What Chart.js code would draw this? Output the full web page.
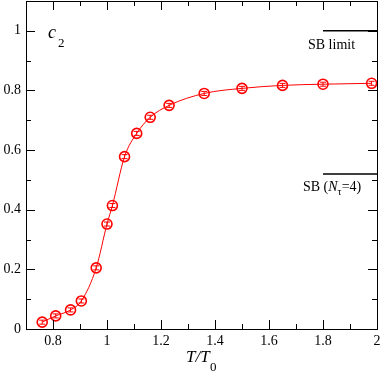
<!DOCTYPE html>
<html>
<head>
<meta charset="utf-8">
<script src="https://cdn.jsdelivr.net/npm/chart.js@4.4.1/dist/chart.umd.min.js"></script>
<style>
  html, body { margin: 0; padding: 0; background: #fff; }
  #wrap { width: 382px; height: 378px; }
</style>
</head>
<body>
<div id="wrap"><canvas id="myChart"></canvas></div>
<script>
// data
const temps = [0.76, 0.81, 0.865, 0.905, 0.96, 1.0, 1.02, 1.065, 1.11, 1.16, 1.23, 1.36, 1.5, 1.65, 1.8, 1.98];
const c2 = [0.023, 0.044, 0.064, 0.094, 0.205, 0.352, 0.414, 0.578, 0.656, 0.71, 0.75, 0.79, 0.807, 0.817, 0.821, 0.824];
const sbLimit = 1.0;
const sbLattice = 0.52;
const sbRange = [1.8, 2.0];

const xTicks = [0.8, 1, 1.2, 1.4, 1.6, 1.8, 2];
const yTicks = [0, 0.2, 0.4, 0.6, 0.8, 1];

const serif = '"Liberation Serif", "DejaVu Serif", serif';

const points = temps.map((t, i) => ({ x: t, y: c2[i] }));

// frame + inward ticks on all four sides
const framePlugin = {
    id: 'frame',
    afterDraw(chart) {
        const c = chart.ctx;
        const a = chart.chartArea;
        const xs = chart.scales.x;
        const ys = chart.scales.y;
        c.save();
        c.strokeStyle = '#000';
        c.lineWidth = 1;
        c.strokeRect(a.left + 0.5, a.top + 0.5, a.right - a.left, a.bottom - a.top);
        c.beginPath();
        for (let v = 0.7; v <= 2.0001; v += 0.1) {
            const px = Math.round(xs.getPixelForValue(v)) + 0.5;
            const major = Math.abs(v * 5 - Math.round(v * 5)) < 0.001;
            const len = major ? 9 : 5;
            c.moveTo(px, a.bottom); c.lineTo(px, a.bottom - len);
            c.moveTo(px, a.top); c.lineTo(px, a.top + len);
        }
        for (let v = 0; v <= 1.1001; v += 0.1) {
            const py = Math.round(ys.getPixelForValue(v)) + 0.5;
            const major = Math.abs(v * 5 - Math.round(v * 5)) < 0.001;
            const len = major ? 9 : 5;
            c.moveTo(a.left, py); c.lineTo(a.left + len, py);
            c.moveTo(a.right, py); c.lineTo(a.right - len, py);
        }
        c.stroke();

        // small error bars inside the markers
        const meta = chart.getDatasetMeta(0);
        c.strokeStyle = 'red';
        c.beginPath();
        meta.data.forEach(p => {
            c.moveTo(p.x - 3, p.y - 2); c.lineTo(p.x + 3, p.y - 2);
            c.moveTo(p.x - 3, p.y + 2); c.lineTo(p.x + 3, p.y + 2);
            c.moveTo(p.x, p.y - 2); c.lineTo(p.x, p.y + 2);
        });
        c.stroke();

        // texts
        c.fillStyle = '#000';
        c.textBaseline = 'alphabetic';
        c.font = 'italic 18px ' + serif;
        c.fillText('c', 48, 38);
        c.font = '13px ' + serif;
        c.fillText('2', 58, 47);

        c.font = 'italic 17px ' + serif;
        c.fillText('T/T', 186, 362);
        c.font = '13px ' + serif;
        c.fillText('0', 210, 371);

        c.font = '14px ' + serif;
        c.fillText('SB limit', 308, 49);

        let x = 303;
        const y = 191;
        c.font = '14px ' + serif;
        c.fillText('SB (', x, y); x += c.measureText('SB (').width;
        c.font = 'italic 14px ' + serif;
        c.fillText('N', x, y); x += c.measureText('N').width;
        c.font = '10px ' + serif;
        c.fillText('\u03c4', x, y + 4); x += c.measureText('\u03c4').width;
        c.font = '14px ' + serif;
        c.fillText('=4)', x, y);
        c.restore();
    }
};

function noPad(scale) {
    scale.paddingTop = 0;
    scale.paddingBottom = 0;
    scale.paddingLeft = 0;
    scale.paddingRight = 0;
}

var ctx = document.getElementById('myChart').getContext('2d');

var myChart = new Chart(ctx, { // eslint-disable-line
    type: 'line',
    data: {
        datasets: [{
            data: points,
            borderColor: 'red',
            borderWidth: 1,
            backgroundColor: 'transparent',
            pointStyle: 'circle',
            pointRadius: 5,
            pointBorderWidth: 1.6,
            pointBorderColor: 'red',
            pointBackgroundColor: 'transparent',
            cubicInterpolationMode: 'monotone'
        },
        {
            data: sbRange.map(v => ({ x: v, y: sbLimit })),
            borderColor: '#000',
            borderWidth: 1.5,
            pointRadius: 0
        },
        {
            data: sbRange.map(v => ({ x: v, y: sbLattice })),
            borderColor: '#000',
            borderWidth: 1.5,
            pointRadius: 0
        }]
    },
    options: {
        responsive: true,
        maintainAspectRatio: false,
        animation: false,
        layout: { autoPadding: false, padding: { top: 1, right: 5, left: 0, bottom: 0 } },
        plugins: {
            legend: { display: false },
            tooltip: { enabled: false }
        },
        scales: {
            x: {
                type: 'linear',
                min: 0.7,
                max: 2,
                grid: { display: false, drawTicks: false },
                border: { display: false },
                afterBuildTicks(scale) { scale.ticks = xTicks.map(v => ({ value: v })); },
                afterFit(scale) { scale.height = 49; noPad(scale); },
                ticks: {
                    padding: 4,
                    color: '#000',
                    font: { family: serif, size: 14 },
                    maxRotation: 0,
                    autoSkip: false,
                    callback: v => String(v)
                }
            },
            y: {
                type: 'linear',
                min: 0,
                max: 1.1,
                grid: { display: false, drawTicks: false },
                border: { display: false },
                afterBuildTicks(scale) { scale.ticks = yTicks.map(v => ({ value: v })); },
                afterFit(scale) { scale.width = 26; noPad(scale); },
                ticks: {
                    padding: 5,
                    color: '#000',
                    font: { family: serif, size: 14 },
                    autoSkip: false,
                    callback: v => String(v)
                }
            }
        }
    },
    plugins: [framePlugin]
});
</script>
</body>
</html>
